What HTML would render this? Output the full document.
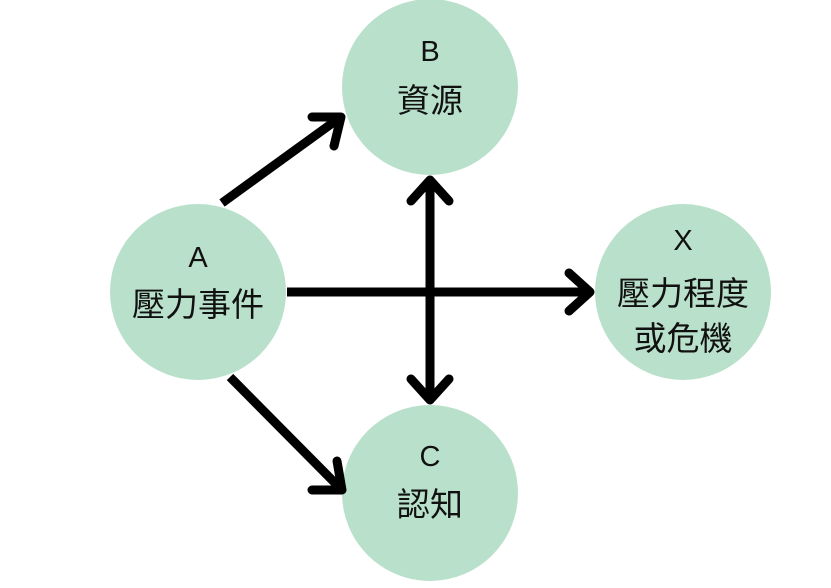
<!DOCTYPE html>
<html><head><meta charset="utf-8"><style>
html,body{margin:0;padding:0;background:#fff;}
svg{display:block}
text{font-family:"Liberation Sans","Noto Sans CJK TC",sans-serif;font-size:29px;fill:#111;text-anchor:middle}
text.c{font-size:33px}
</style></head><body>
<svg width="831" height="588" viewBox="0 0 831 588" xmlns="http://www.w3.org/2000/svg">
<g fill="#b8e0cb">
<circle cx="430" cy="87" r="88"/>
<circle cx="198" cy="292" r="88"/>
<circle cx="683" cy="292" r="88"/>
<circle cx="430" cy="493" r="88"/>
</g>
<g stroke="#000" stroke-width="9" fill="none" stroke-linejoin="round">
<line x1="222" y1="203" x2="338" y2="119"/>
<polyline points="312,117 341,117 334,146" stroke-linecap="round"/>
<line x1="230" y1="377" x2="339" y2="487"/>
<polyline points="312,490 342,490 337,461" stroke-linecap="round"/>
<line x1="287" y1="292" x2="588" y2="292"/>
<polyline points="569,273 590,292 569,311" stroke-linecap="round"/>
<line x1="430" y1="182" x2="430" y2="398"/>
<polyline points="411,201 430,180 449,201" stroke-linecap="round"/>
<polyline points="411,379 430,400 449,379" stroke-linecap="round"/>
</g>
<text x="430" y="61">B</text>
<text class="c" x="430" y="112">資源</text>
<text x="198" y="267">A</text>
<text class="c" x="198" y="316">壓力事件</text>
<text x="683" y="250">X</text>
<text class="c" x="683" y="305">壓力程度</text>
<text class="c" x="683" y="350">或危機</text>
<text x="430" y="466">C</text>
<text class="c" x="430" y="516">認知</text>
</svg>
</body></html>
